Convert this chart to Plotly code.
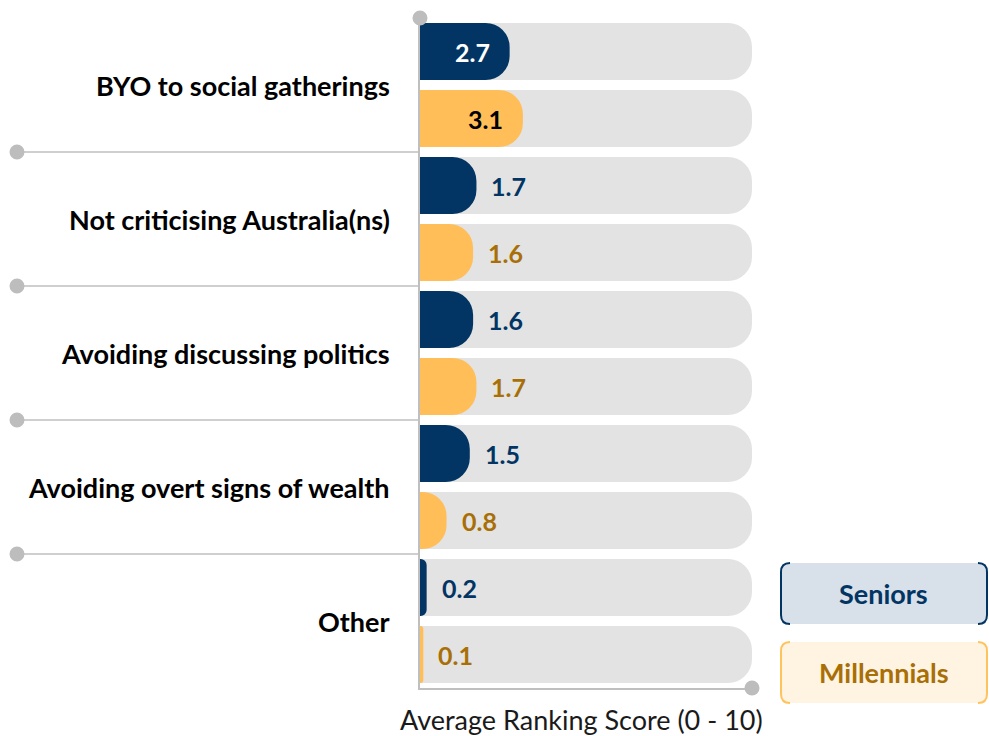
import plotly.graph_objects as go

# ---------------- data ----------------
categories = [
    "BYO to social gatherings",
    "Not criticising Australia(ns)",
    "Avoiding discussing politics",
    "Avoiding overt signs of wealth",
    "Other",
]
seniors = [2.7, 1.7, 1.6, 1.5, 0.2]
millennials = [3.1, 1.6, 1.7, 0.8, 0.1]
series_names = ["Seniors", "Millennials"]
axis_title = "Average Ranking Score (0 - 10)"
scale_max = 10

# ---------------- styling ----------------
W, H = 989, 736
L, R, T, B = 420, 752, 18, 688  # plot area in pixels
FONT = "Lato"
NAVY = "#023563"
GOLD = "#FFBE58"
GOLD_TXT = "#A86F07"
GREY_BAR = "#E3E3E3"
AXIS_GREY = "#BFBFBF"
DOT_GREY = "#BDBDBD"
BAR_W = 0.85
CR = 24


def px(x):
    return (x - L) / (R - L)


def py(y):
    return (B - y) / (B - T)


n = len(categories)
y_sen = [2 * i for i in range(n)]
y_mil = [2 * i + 1 for i in range(n)]
y_all = sorted(y_sen + y_mil)

fig = go.Figure()
fig.add_trace(go.Bar(
    x=[scale_max] * len(y_all), y=y_all, orientation="h", width=BAR_W,
    marker=dict(color=GREY_BAR, cornerradius=CR, line=dict(width=0)),
    hoverinfo="skip", showlegend=False, xaxis="x", yaxis="y",
))
fig.add_trace(go.Bar(
    x=seniors, y=y_sen, orientation="h", width=BAR_W, name=series_names[0],
    marker=dict(color=NAVY, cornerradius=CR, line=dict(width=0)),
    showlegend=False, xaxis="x2", yaxis="y2",
))
fig.add_trace(go.Bar(
    x=millennials, y=y_mil, orientation="h", width=BAR_W, name=series_names[1],
    marker=dict(color=GOLD, cornerradius=CR, line=dict(width=0)),
    showlegend=False, xaxis="x2", yaxis="y2",
))

annotations = []
# value labels
for vals, ys, in_col, out_col in [
    (seniors, y_sen, "white", NAVY),
    (millennials, y_mil, "black", GOLD_TXT),
]:
    for v, yy in zip(vals, ys):
        inside = v > 2.0
        annotations.append(dict(
            x=v, y=yy, xref="x", yref="y", text=f"{v:.1f}", showarrow=False,
            xanchor="right" if inside else "left",
            xshift=-18 if inside else 13,
            font=dict(family=FONT, size=25, color=in_col if inside else out_col, weight="bold"),
        ))
# category labels
for i, c in enumerate(categories):
    annotations.append(dict(
        x=0, y=2 * i + 0.5, xref="paper", yref="y", text=c, showarrow=False,
        xanchor="right", xshift=-28,
        font=dict(family=FONT, size=27, color="black", weight="bold"),
    ))
# axis title
annotations.append(dict(
    x=px(581), y=py(719), xref="paper", yref="paper", text=axis_title, showarrow=False,
    xanchor="center", yanchor="middle",
    font=dict(family=FONT, size=27, color="#1a1a1a"),
))

shapes = []
# separator lines with dots
for i in range(1, n):
    yb = 2 * i - 0.5
    shapes.append(dict(type="line", xref="paper", yref="y", x0=px(17), x1=0, y0=yb, y1=yb,
                       line=dict(color=AXIS_GREY, width=1.5)))
    shapes.append(dict(type="circle", xref="paper", yref="y", xsizemode="pixel", ysizemode="pixel",
                       xanchor=px(17), yanchor=yb, x0=-7.5, x1=7.5, y0=-7.5, y1=7.5,
                       fillcolor=DOT_GREY, line=dict(width=0)))
# axis end dots
for ax, ay in [(0, 1), (1, 0)]:
    shapes.append(dict(type="circle", xref="paper", yref="paper", xsizemode="pixel", ysizemode="pixel",
                       xanchor=ax, yanchor=ay, x0=-7.5, x1=7.5, y0=-7.5, y1=7.5,
                       fillcolor=DOT_GREY, line=dict(width=0)))


def rrect(x0, y0, x1, y1, r):
    return [
        ("M", x0 + r, y0), ("L", x1 - r, y0), ("Q", x1, y0, x1, y0 + r), ("L", x1, y1 - r),
        ("Q", x1, y1, x1 - r, y1), ("L", x0 + r, y1), ("Q", x0, y1, x0, y1 - r),
        ("L", x0, y0 + r), ("Q", x0, y0, x0 + r, y0),
    ]


def to_path(cmds, close=False):
    s = ""
    for c in cmds:
        if c[0] == "Q":
            s += f"Q{px(c[1])},{py(c[2])} {px(c[3])},{py(c[4])} "
        else:
            s += f"{c[0]}{px(c[1])},{py(c[2])} "
    return s + ("Z" if close else "")


legend_boxes = [
    (series_names[0], 563, 624, "#D8E0E9", NAVY, NAVY),
    (series_names[1], 642, 703, "#FFF3E1", "#FFC35E", GOLD_TXT),
]
x0b, x1b, rb = 781, 987, 9
for name, y0, y1, fill, edge, tcol in legend_boxes:
    shapes.append(dict(type="path", xref="paper", yref="paper",
                       path=to_path(rrect(x0b, y0, x1b, y1, rb), close=True),
                       fillcolor=fill, line=dict(width=0)))
    left = [("M", x0b + rb, y0), ("Q", x0b, y0, x0b, y0 + rb), ("L", x0b, y1 - rb), ("Q", x0b, y1, x0b + rb, y1)]
    right = [("M", x1b - rb, y0), ("Q", x1b, y0, x1b, y0 + rb), ("L", x1b, y1 - rb), ("Q", x1b, y1, x1b - rb, y1)]
    for br in (left, right):
        shapes.append(dict(type="path", xref="paper", yref="paper", path=to_path(br),
                           line=dict(color=edge, width=2)))
    annotations.append(dict(
        x=px((x0b + x1b) / 2 - 0.5), y=py((y0 + y1) / 2), xref="paper", yref="paper", text=name,
        showarrow=False, xanchor="center", yanchor="middle",
        font=dict(family=FONT, size=27, color=tcol, weight="bold"),
    ))

yrange = [len(y_all) - 0.5, -0.5]
fig.update_layout(
    width=W, height=H,
    margin=dict(l=L, r=W - R, t=T, b=H - B, pad=0),
    barmode="overlay",
    plot_bgcolor="white", paper_bgcolor="white",
    xaxis=dict(range=[0, scale_max], showgrid=False, zeroline=False, showticklabels=False,
               showline=True, linecolor=AXIS_GREY, linewidth=2, ticks=""),
    yaxis=dict(range=yrange, showgrid=False, zeroline=False, showticklabels=False,
               showline=True, linecolor=AXIS_GREY, linewidth=2, ticks=""),
    xaxis2=dict(range=[0, scale_max], overlaying="x", visible=False, showgrid=False, zeroline=False),
    yaxis2=dict(range=yrange, overlaying="y", visible=False, showgrid=False, zeroline=False),
    shapes=shapes, annotations=annotations,
    font=dict(family=FONT),
)

fig.write_html("out.html", config={"displayModeBar": False},
               post_script="document.body.style.margin='0';")
